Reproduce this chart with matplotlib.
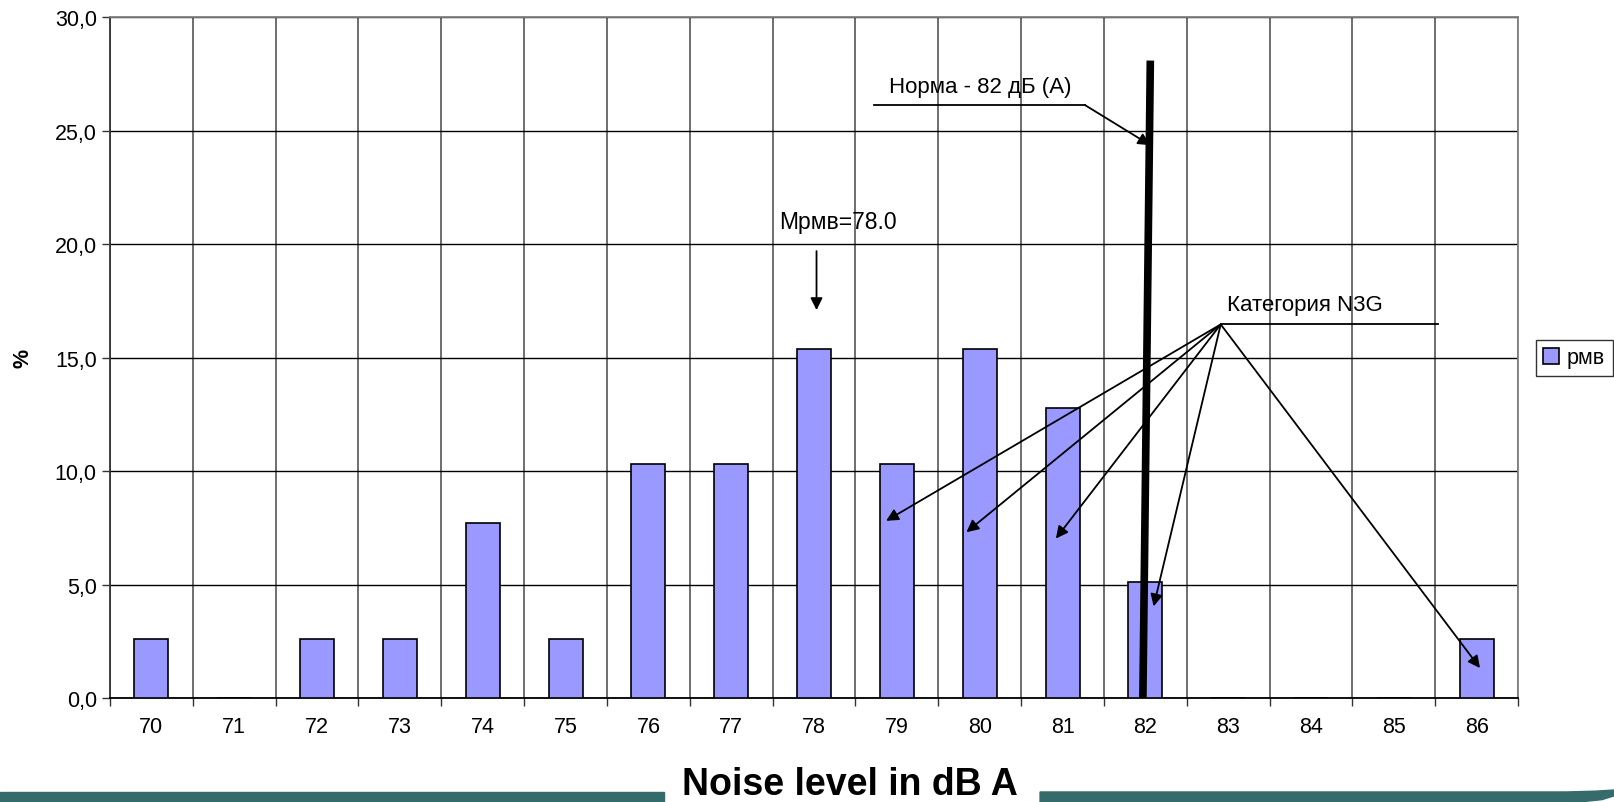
import numpy as np
import matplotlib
matplotlib.use("Agg")
import matplotlib.pyplot as plt
from matplotlib.patches import Rectangle, Polygon

plt.rcParams['font.family'] = ['Liberation Sans', 'DejaVu Sans']

levels = np.arange(70, 87)
percents = [2.6, 0, 2.6, 2.6, 7.7, 2.6, 10.3, 10.3, 15.4, 10.3, 15.4, 12.8, 5.1, 0, 0, 0, 2.6]
y_ticks = [0, 5, 10, 15, 20, 25, 30]
y_labels = ["0,0", "5,0", "10,0", "15,0", "20,0", "25,0", "30,0"]

fig = plt.figure(figsize=(16.15, 8.03), dpi=100)
ax = fig.add_axes([0.0681, 0.1295, 0.8719, 0.8475])

ax.bar(levels, percents, width=0.41, color="#9999ff", edgecolor="black",
       linewidth=1.2, label="рмв", zorder=3)

ax.set_xlim(69.5, 86.5)
ax.set_ylim(0, 30)
ax.set_xticks(levels)
ax.set_xticklabels([str(v) for v in levels], fontsize=15.5)
ax.set_xticks(np.arange(69.5, 87, 1), minor=True)
ax.tick_params(axis="x", which="major", length=0, pad=13)
ax.tick_params(axis="x", which="minor", length=6, width=1, color="#333333")
ax.set_yticks(y_ticks)
ax.set_yticklabels(y_labels, fontsize=15.5)
ax.tick_params(axis="y", length=6, width=1, color="#333333")

ax.grid(axis="y", color="black", linewidth=1, zorder=1)
ax.grid(axis="x", which="minor", color="#555555", linewidth=1.2, zorder=1)
ax.grid(axis="x", which="major", visible=False)

ax.spines["top"].set_color("#808080")
ax.spines["right"].set_color("#808080")
ax.spines["left"].set_color("#333333")
ax.spines["bottom"].set_color("black")
for s in ax.spines.values():
    s.set_linewidth(1.3)

fig.text(0.0145, 0.554, "%", fontsize=15.5, fontweight="bold", rotation=90,
         ha="center", va="center")

# линия нормы
ax.plot([81.97, 82.06], [0, 28.1], color="black", linewidth=5.5, zorder=5,
        solid_capstyle="butt")

arr = dict(arrowstyle="-|>", color="black", lw=1.3, mutation_scale=18, shrinkA=0, shrinkB=0)

ax.plot([78.72, 81.27], [26.14, 26.14], color="black", lw=1.3, zorder=6)
ax.annotate("", xy=(82.06, 24.37), xytext=(81.27, 26.14), arrowprops=arr, zorder=6)
ax.text(78.9, 26.5, "Норма - 82 дБ (А)", fontsize=16, va="bottom", ha="left", zorder=6)

ax.text(77.58, 20.5, "Мрмв=78.0", fontsize=16.5, ha="left", va="bottom", zorder=6)
ax.annotate("", xy=(78.03, 17.1), xytext=(78.03, 19.7), arrowprops=arr, zorder=6)

cat_pt = (82.91, 16.47)
ax.plot([82.91, 85.53], [16.47, 16.47], color="black", lw=1.3, zorder=6)
ax.text(82.98, 16.9, "Категория N3G", fontsize=16, va="bottom", ha="left", zorder=6)
for tx, ty in [(78.87, 7.81), (79.84, 7.31), (80.92, 7.03), (82.10, 4.04), (86.04, 1.32)]:
    ax.annotate("", xy=(tx, ty), xytext=cat_pt, arrowprops=arr, zorder=6)

leg = ax.legend(loc="center left", bbox_to_anchor=(1.0125, 0.5), fontsize=15.5,
                frameon=True, fancybox=False, edgecolor="black",
                handlelength=0.75, handleheight=0.75, handletextpad=0.35,
                borderpad=0.35, borderaxespad=0)
leg.get_frame().set_linewidth(1)

# полоса внизу
teal = "#356b6b"
fig.patches.append(Rectangle((0, 0), 0.411, 0.0125, transform=fig.transFigure,
                             color=teal, zorder=0))
fig.patches.append(Polygon([(0.644, 0), (0.978, 0), (0.992, 0.003), (1.0, 0.008),
                            (1.0, 0.015), (0.988, 0.0135), (0.97, 0.0125),
                            (0.644, 0.0125)],
                           closed=True, transform=fig.transFigure, color=teal, zorder=0))
fig.text(0.5265, 0.0005, "Noise level in dB A", fontsize=27, fontweight="bold",
         ha="center", va="bottom")

fig.savefig("out.png", dpi=100)
